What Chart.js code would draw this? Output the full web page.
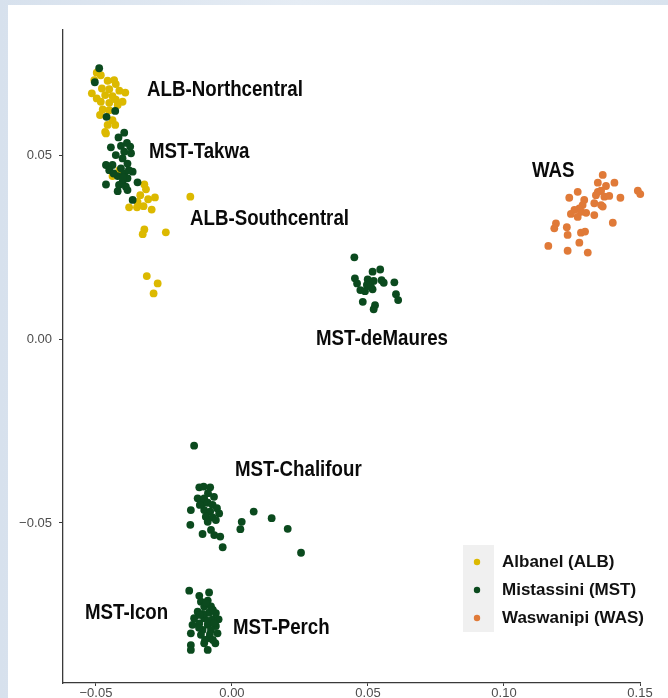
<!DOCTYPE html>
<html>
<head>
<meta charset="utf-8">
<script src="https://cdn.jsdelivr.net/npm/chart.js@4"></script>
<style>
  html, body { margin: 0; padding: 0; }
  body { width: 668px; height: 698px; overflow: hidden; position: relative;
         background: linear-gradient(90deg, #d7e1ed 0%, #e5ecf4 45%, #d9e3ee 100%); }
  #panel { position: absolute; left: 8px; top: 5px; width: 660px; height: 693px; background: #fff; }
  #wrap { position: absolute; left: 0; top: 0; width: 668px; height: 698px; }
</style>
</head>
<body>
<div id="panel"></div>
<div id="wrap"><canvas id="c" width="668" height="698"></canvas></div>
<script>
// tick labels
const xTicks = [-0.05, 0.00, 0.05, 0.10, 0.15];
const yTicks = [-0.05, 0.00, 0.05];

// series names and colours
const seriesNames = ['Albanel (ALB)', 'Mistassini (MST)', 'Waswanipi (WAS)'];
const seriesColors = ['#dcb900', '#0b4a1e', '#e07a38'];

// Albanel (ALB)
const albX = [-0.0497, -0.0482, -0.0457, -0.0433, -0.0427, -0.0478, -0.0451, -0.0414, -0.0392, -0.0515,
  -0.0466, -0.0439, -0.0497, -0.0427, -0.0402, -0.0482, -0.0451, -0.0420, -0.0475, -0.0451,
  -0.0485, -0.0439, -0.0457, -0.0429, -0.0466, -0.0506, -0.0463, -0.0414, -0.0439,
  -0.0322, -0.0316, -0.0337, -0.0308, -0.0283, -0.0347, -0.0378, -0.0349, -0.0325, -0.0295,
  -0.0153, -0.0322, -0.0328, -0.0243, -0.0313, -0.0273, -0.0288];
const albY = [0.0724, 0.0717, 0.0702, 0.0704, 0.0693, 0.0681, 0.0679, 0.0675, 0.0670, 0.0668,
  0.0663, 0.0660, 0.0654, 0.0651, 0.0645, 0.0645, 0.0642, 0.0636, 0.0624, 0.0622,
  0.0609, 0.0595, 0.0582, 0.0582, 0.0563, 0.0704, 0.0559, 0.0459, 0.0443,
  0.0420, 0.0407, 0.0391, 0.0380, 0.0385, 0.0373, 0.0358, 0.0358, 0.0361, 0.0352,
  0.0387, 0.0298, 0.0285, 0.0290, 0.0171, 0.0151, 0.0124];

// Mistassini (MST)
const mstX = [-0.0488, -0.0504, -0.0429, -0.0461,
  -0.0396, -0.0417, -0.0386, -0.0374, -0.0445, -0.0408, -0.0396, -0.0371, -0.0427, -0.0402,
  -0.0463, -0.0439, -0.0384, -0.0365, -0.0451, -0.0408, -0.0396, -0.0420, -0.0435, -0.0384,
  -0.0402, -0.0347, -0.0463, -0.0390, -0.0420, -0.0384, -0.0365, -0.0401, -0.0379, -0.0415,
  0.0450, 0.0517, 0.0545, 0.0452, 0.0460, 0.0499, 0.0521, 0.0550, 0.0558, 0.0597,
  0.0496, 0.0472, 0.0489, 0.0517, 0.0511, 0.0603, 0.0611, 0.0481, 0.0526, 0.0521,
  -0.0139, -0.0120, -0.0104, -0.0080, -0.0126, -0.0102, -0.0108, -0.0089, -0.0071, -0.0055,
  -0.0151, -0.0102, -0.0080, -0.0047, -0.0096, -0.0071, -0.0089, -0.0059, 0.0080, 0.0036,
  0.0146, -0.0153, 0.0031, 0.0205, -0.0108, -0.0077, -0.0065, -0.0043, -0.0034, 0.0254,
  -0.0088, -0.0066, -0.0118,
  -0.0157, -0.0120, -0.0084, -0.0114, -0.0089, -0.0102, -0.0077, -0.0126, -0.0084, -0.0059,
  -0.0139, -0.0102, -0.0071, -0.0049, -0.0120, -0.0089, -0.0059, -0.0145, -0.0108, -0.0077,
  -0.0053, -0.0151, -0.0114, -0.0084, -0.0102, -0.0061, -0.0151, -0.0151, -0.0089,
  -0.0096, -0.0070, -0.0107, -0.0088, -0.0066, -0.0121, -0.0081, -0.0099, -0.0070, -0.0118];
const mstY = [0.0736, 0.0698, 0.0620, 0.0604,
  0.0561, 0.0548, 0.0533, 0.0523, 0.0521, 0.0525, 0.0509, 0.0505, 0.0500, 0.0491,
  0.0473, 0.0473, 0.0477, 0.0455, 0.0459, 0.0464, 0.0450, 0.0443, 0.0450, 0.0437,
  0.0427, 0.0426, 0.0420, 0.0414, 0.0402, 0.0405, 0.0378, 0.0440, 0.0459, 0.0419,
  0.0222, 0.0183, 0.0189, 0.0165, 0.0151, 0.0162, 0.0158, 0.0160, 0.0153, 0.0154,
  0.0147, 0.0133, 0.0130, 0.0135, 0.0142, 0.0122, 0.0106, 0.0101, 0.0092, 0.0081,
  -0.0290, -0.0403, -0.0401, -0.0403, -0.0433, -0.0433, -0.0447, -0.0445, -0.0451, -0.0460,
  -0.0465, -0.0465, -0.0469, -0.0474, -0.0483, -0.0485, -0.0497, -0.0492, -0.0469, -0.0497,
  -0.0487, -0.0505, -0.0517, -0.0516, -0.0530, -0.0519, -0.0533, -0.0537, -0.0566, -0.0581,
  -0.0419, -0.0429, -0.0451,
  -0.0684, -0.0698, -0.0689, -0.0714, -0.0711, -0.0727, -0.0727, -0.0741, -0.0744, -0.0745,
  -0.0759, -0.0759, -0.0762, -0.0762, -0.0773, -0.0777, -0.0780, -0.0777, -0.0791, -0.0791,
  -0.0800, -0.0800, -0.0804, -0.0813, -0.0827, -0.0827, -0.0832, -0.0845, -0.0845,
  -0.0717, -0.0736, -0.0747, -0.0766, -0.0772, -0.0785, -0.0802, -0.0818, -0.0818, -0.0750];

// Waswanipi (WAS)
const wasX = [0.1363, 0.1345, 0.1406, 0.1375, 0.1271, 0.1345, 0.1357, 0.1492, 0.1501, 0.1338,
  0.1369, 0.1387, 0.1428, 0.1240, 0.1295, 0.1332, 0.1357, 0.1289, 0.1277, 0.1363,
  0.1259, 0.1283, 0.1302, 0.1246, 0.1332, 0.1271, 0.1400, 0.1191, 0.1185, 0.1231,
  0.1283, 0.1298, 0.1234, 0.1277, 0.1163, 0.1234, 0.1308];
const wasY = [0.0446, 0.0425, 0.0425, 0.0416, 0.0400, 0.0400, 0.0403, 0.0403, 0.0394, 0.0391,
  0.0387, 0.0389, 0.0384, 0.0384, 0.0378, 0.0369, 0.0364, 0.0364, 0.0355, 0.0360,
  0.0351, 0.0346, 0.0343, 0.0340, 0.0337, 0.0332, 0.0316, 0.0314, 0.0301, 0.0304,
  0.0289, 0.0292, 0.0283, 0.0262, 0.0253, 0.0240, 0.0235];

// cluster annotations (left edge, vertical middle, in data units)
const clusterNames = ['ALB-Northcentral', 'MST-Takwa', 'ALB-Southcentral', 'WAS',
  'MST-deMaures', 'MST-Chalifour', 'MST-Icon', 'MST-Perch'];
const clusterX = [-0.0312, -0.0305, -0.0154, 0.1103, 0.0309, 0.0011, -0.0540, 0.0004];
const clusterY = [0.0677, 0.0508, 0.0326, 0.0457, 0.0000, -0.0356, -0.0745, -0.0785];

const pts = (xs, ys) => xs.map((v, i) => ({ x: v, y: ys[i] }));
const fmt = v => v.toFixed(2).replace('-', '\u2212');

const overlay = {
  id: 'overlay',
  afterDatasetsDraw(chart) {
    const { ctx, scales: { x, y } } = chart;
    ctx.save();
    ctx.fillStyle = '#0a0a0a';
    ctx.textBaseline = 'middle';
    ctx.textAlign = 'left';
    ctx.font = 'bold 22px "Liberation Sans", Arial, sans-serif';
    clusterNames.forEach((t, i) => {
      ctx.save();
      ctx.translate(x.getPixelForValue(clusterX[i]), y.getPixelForValue(clusterY[i]));
      ctx.scale(0.85, 1);
      ctx.fillText(t, 0, 0);
      ctx.restore();
    });

    // legend
    ctx.fillStyle = '#f0f0f0';
    ctx.fillRect(463, 545, 31, 87);
    const rows = [562, 590, 618];
    ctx.font = 'bold 17px "Liberation Sans", Arial, sans-serif';
    seriesNames.forEach((name, i) => {
      ctx.fillStyle = seriesColors[i];
      ctx.beginPath();
      ctx.arc(477, rows[i], 3.2, 0, Math.PI * 2);
      ctx.fill();
      ctx.fillStyle = '#111';
      ctx.fillText(name, 502, rows[i]);
    });
    ctx.restore();
  }
};

const axisStyle = {
  type: 'linear',
  border: { display: true, color: '#3a3a3a', width: 1.3 },
  grid: { drawOnChartArea: false, drawTicks: true, tickLength: 4, color: '#3a3a3a', lineWidth: 1 },
  ticks: { color: '#4d4d4d', font: { family: 'Liberation Sans', size: 13 }, maxRotation: 0, callback: fmt }
};

new Chart(document.getElementById('c'), {
  type: 'scatter',
  data: {
    datasets: [
      { label: seriesNames[0], data: pts(albX, albY), backgroundColor: seriesColors[0], order: 1 },
      { label: seriesNames[1], data: pts(mstX, mstY), backgroundColor: seriesColors[1], order: 0 },
      { label: seriesNames[2], data: pts(wasX, wasY), backgroundColor: seriesColors[2], order: 2 }
    ]
  },
  options: {
    responsive: false,
    animation: false,
    devicePixelRatio: 1,
    layout: { padding: { top: 30, right: 28, left: 0, bottom: 0 } },
    elements: { point: { radius: 3.9, borderWidth: 0, hoverRadius: 3.9 } },
    datasets: { scatter: { clip: false } },
    plugins: { legend: { display: false }, tooltip: { enabled: false } },
    scales: {
      x: Object.assign({}, axisStyle, {
        position: 'bottom', min: -0.0621, max: 0.15,
        afterBuildTicks: s => { s.ticks = xTicks.map(v => ({ value: v })); },
        afterFit: s => { s.height = 15; },
        grid: Object.assign({}, axisStyle.grid, { tickLength: 3 }),
        ticks: Object.assign({}, axisStyle.ticks, { padding: 0 })
      }),
      y: Object.assign({}, axisStyle, {
        position: 'left', min: -0.0935, max: 0.0840,
        afterBuildTicks: s => { s.ticks = yTicks.map(v => ({ value: v })); },
        afterFit: s => { s.width = 63; },
        ticks: Object.assign({}, axisStyle.ticks, { padding: 7 })
      })
    }
  },
  plugins: [overlay]
});
</script>
</body>
</html>
